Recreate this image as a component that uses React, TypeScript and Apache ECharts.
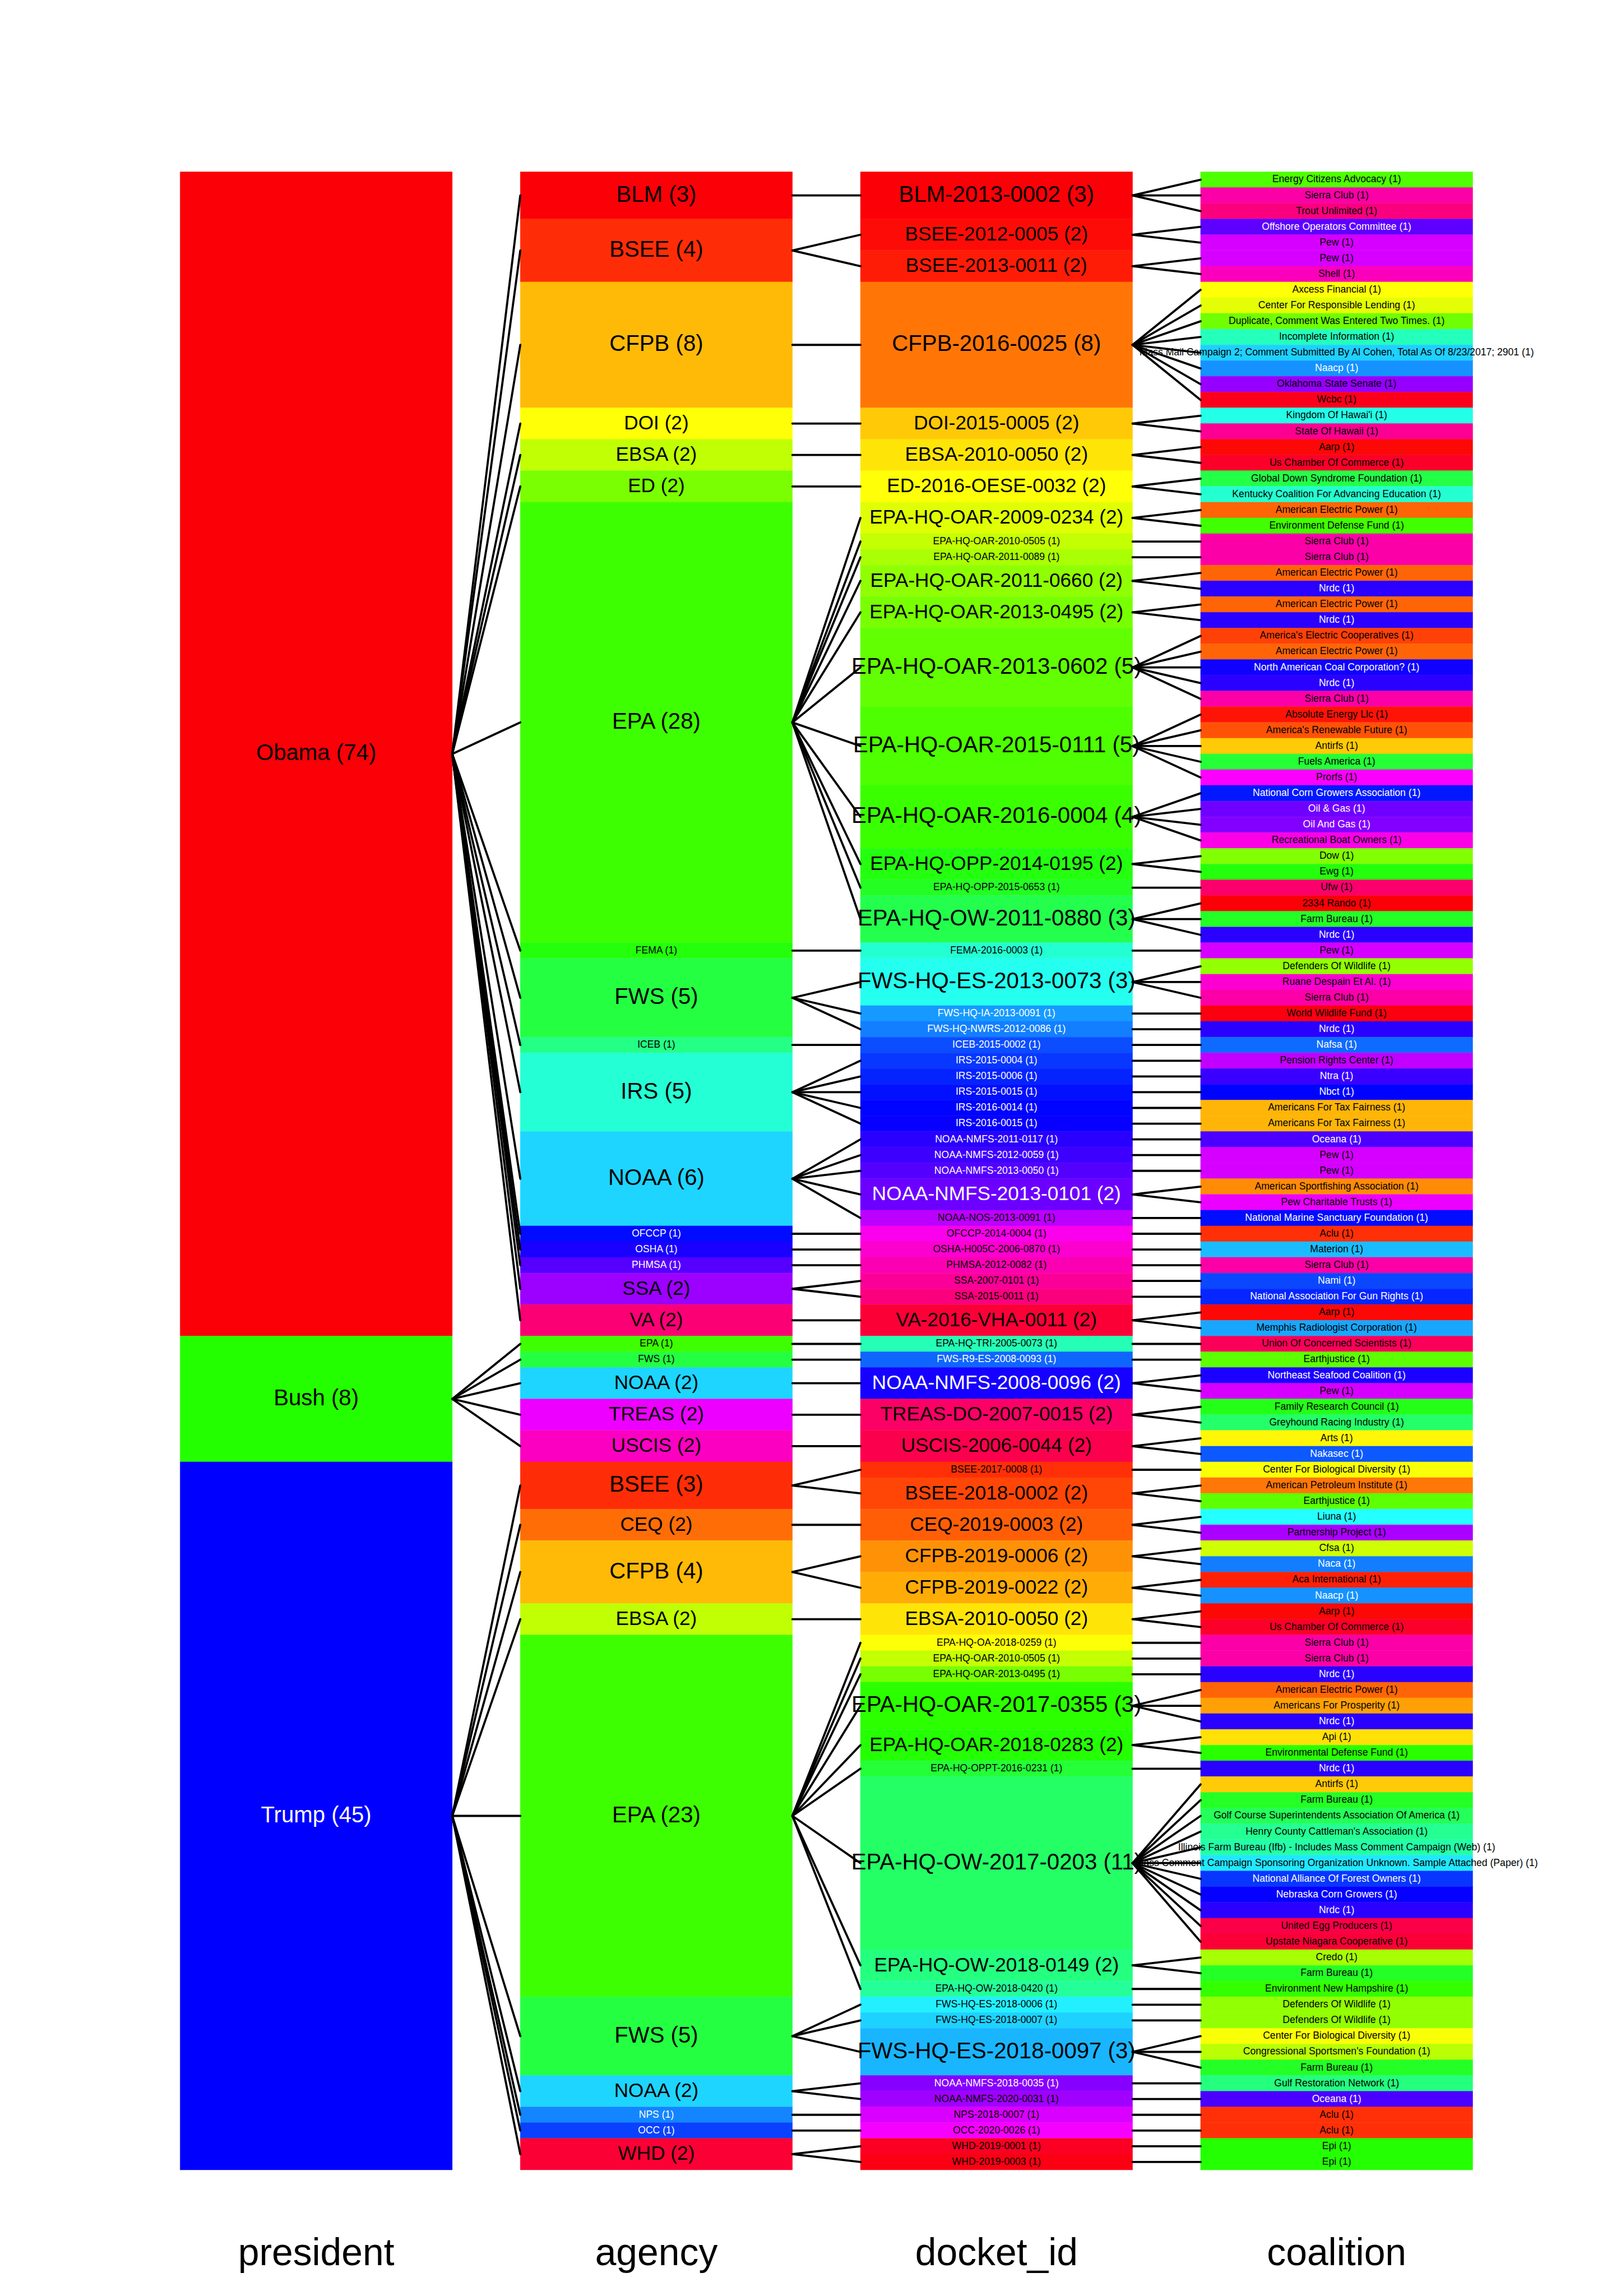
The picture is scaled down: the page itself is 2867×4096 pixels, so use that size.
import React, { useEffect, useRef } from 'react';
import * as echarts from 'echarts';

const columnTitles = ['president', 'agency', 'docket_id', 'coalition'];

const presidentNames = ['Obama', 'Bush', 'Trump'];
const presidentCounts = [74, 8, 45];

const agencyNames = [
  'BLM', 'BSEE', 'CFPB', 'DOI', 'EBSA', 'ED', 'EPA', 'FEMA', 'FWS', 'ICEB', 'IRS', 'NOAA', 'OFCCP', 'OSHA', 'PHMSA', 'SSA', 'VA',
  'EPA', 'FWS', 'NOAA', 'TREAS', 'USCIS',
  'BSEE', 'CEQ', 'CFPB', 'EBSA', 'EPA', 'FWS', 'NOAA', 'NPS', 'OCC', 'WHD',
];
const agencyCounts = [
  3, 4, 8, 2, 2, 2, 28, 1, 5, 1, 5, 6, 1, 1, 1, 2, 2,
  1, 1, 2, 2, 2,
  3, 2, 4, 2, 23, 5, 2, 1, 1, 2,
];

const docketNames = [
  'BLM-2013-0002', 'BSEE-2012-0005', 'BSEE-2013-0011', 'CFPB-2016-0025', 'DOI-2015-0005', 'EBSA-2010-0050',
  'ED-2016-OESE-0032', 'EPA-HQ-OAR-2009-0234', 'EPA-HQ-OAR-2010-0505', 'EPA-HQ-OAR-2011-0089', 'EPA-HQ-OAR-2011-0660',
  'EPA-HQ-OAR-2013-0495', 'EPA-HQ-OAR-2013-0602', 'EPA-HQ-OAR-2015-0111', 'EPA-HQ-OAR-2016-0004', 'EPA-HQ-OPP-2014-0195',
  'EPA-HQ-OPP-2015-0653', 'EPA-HQ-OW-2011-0880', 'FEMA-2016-0003', 'FWS-HQ-ES-2013-0073', 'FWS-HQ-IA-2013-0091',
  'FWS-HQ-NWRS-2012-0086', 'ICEB-2015-0002', 'IRS-2015-0004', 'IRS-2015-0006', 'IRS-2015-0015', 'IRS-2016-0014',
  'IRS-2016-0015', 'NOAA-NMFS-2011-0117', 'NOAA-NMFS-2012-0059', 'NOAA-NMFS-2013-0050', 'NOAA-NMFS-2013-0101',
  'NOAA-NOS-2013-0091', 'OFCCP-2014-0004', 'OSHA-H005C-2006-0870', 'PHMSA-2012-0082', 'SSA-2007-0101', 'SSA-2015-0011',
  'VA-2016-VHA-0011',
  'EPA-HQ-TRI-2005-0073', 'FWS-R9-ES-2008-0093', 'NOAA-NMFS-2008-0096', 'TREAS-DO-2007-0015', 'USCIS-2006-0044',
  'BSEE-2017-0008', 'BSEE-2018-0002', 'CEQ-2019-0003', 'CFPB-2019-0006', 'CFPB-2019-0022', 'EBSA-2010-0050',
  'EPA-HQ-OA-2018-0259', 'EPA-HQ-OAR-2010-0505', 'EPA-HQ-OAR-2013-0495', 'EPA-HQ-OAR-2017-0355', 'EPA-HQ-OAR-2018-0283',
  'EPA-HQ-OPPT-2016-0231', 'EPA-HQ-OW-2017-0203', 'EPA-HQ-OW-2018-0149', 'EPA-HQ-OW-2018-0420', 'FWS-HQ-ES-2018-0006',
  'FWS-HQ-ES-2018-0007', 'FWS-HQ-ES-2018-0097', 'NOAA-NMFS-2018-0035', 'NOAA-NMFS-2020-0031', 'NPS-2018-0007',
  'OCC-2020-0026', 'WHD-2019-0001', 'WHD-2019-0003',
];
const docketCounts = [
  3, 2, 2, 8, 2, 2,
  2, 2, 1, 1, 2,
  2, 5, 5, 4, 2,
  1, 3, 1, 3, 1,
  1, 1, 1, 1, 1, 1,
  1, 1, 1, 1, 2,
  1, 1, 1, 1, 1, 1,
  2,
  1, 1, 2, 2, 2,
  1, 2, 2, 2, 2, 2,
  1, 1, 1, 3, 2,
  1, 11, 2, 1, 1,
  1, 3, 1, 1, 1,
  1, 1, 1,
];

const coalitionNames = [
  'Energy Citizens Advocacy', 'Sierra Club', 'Trout Unlimited', 'Offshore Operators Committee', 'Pew', 'Pew', 'Shell',
  'Axcess Financial', 'Center For Responsible Lending', 'Duplicate, Comment Was Entered Two Times.', 'Incomplete Information',
  'Mass Mail Campaign 2; Comment Submitted By Al Cohen, Total As Of 8/23/2017; 2901', 'Naacp', 'Oklahoma State Senate', 'Wcbc',
  "Kingdom Of Hawai'i", 'State Of Hawaii', 'Aarp', 'Us Chamber Of Commerce', 'Global Down Syndrome Foundation',
  'Kentucky Coalition For Advancing Education', 'American Electric Power', 'Environment Defense Fund', 'Sierra Club',
  'Sierra Club', 'American Electric Power', 'Nrdc', 'American Electric Power', 'Nrdc', "America's Electric Cooperatives",
  'American Electric Power', 'North American Coal Corporation?', 'Nrdc', 'Sierra Club', 'Absolute Energy Llc',
  "America's Renewable Future", 'Antirfs', 'Fuels America', 'Prorfs', 'National Corn Growers Association', 'Oil & Gas',
  'Oil And Gas', 'Recreational Boat Owners', 'Dow', 'Ewg', 'Ufw', '2334 Rando', 'Farm Bureau', 'Nrdc', 'Pew',
  'Defenders Of Wildlife', 'Ruane Despain Et Al.', 'Sierra Club', 'World Wildlife Fund', 'Nrdc', 'Nafsa',
  'Pension Rights Center', 'Ntra', 'Nbct', 'Americans For Tax Fairness', 'Americans For Tax Fairness', 'Oceana', 'Pew', 'Pew',
  'American Sportfishing Association', 'Pew Charitable Trusts', 'National Marine Sanctuary Foundation', 'Aclu', 'Materion',
  'Sierra Club', 'Nami', 'National Association For Gun Rights', 'Aarp', 'Memphis Radiologist Corporation',
  'Union Of Concerned Scientists', 'Earthjustice', 'Northeast Seafood Coalition', 'Pew', 'Family Research Council',
  'Greyhound Racing Industry', 'Arts', 'Nakasec', 'Center For Biological Diversity', 'American Petroleum Institute',
  'Earthjustice', 'Liuna', 'Partnership Project', 'Cfsa', 'Naca', 'Aca International', 'Naacp', 'Aarp',
  'Us Chamber Of Commerce', 'Sierra Club', 'Sierra Club', 'Nrdc', 'American Electric Power', 'Americans For Prosperity',
  'Nrdc', 'Api', 'Environmental Defense Fund', 'Nrdc', 'Antirfs', 'Farm Bureau',
  'Golf Course Superintendents Association Of America', "Henry County Cattleman's Association",
  'Illinois Farm Bureau (Ifb) - Includes Mass Comment Campaign (Web)',
  'Mass Comment Campaign Sponsoring Organization Unknown. Sample Attached (Paper)', 'National Alliance Of Forest Owners',
  'Nebraska Corn Growers', 'Nrdc', 'United Egg Producers', 'Upstate Niagara Cooperative', 'Credo', 'Farm Bureau',
  'Environment New Hampshire', 'Defenders Of Wildlife', 'Defenders Of Wildlife', 'Center For Biological Diversity',
  "Congressional Sportsmen's Foundation", 'Farm Bureau', 'Gulf Restoration Network', 'Oceana', 'Aclu', 'Aclu', 'Epi', 'Epi',
];
const coalitionCounts = coalitionNames.map(() => 1);

const FONT = '"Liberation Sans", Arial, Helvetica, sans-serif';

function rainbow(i: number, n: number): number[] {
  const h = (i / n) * 6;
  const k = Math.floor(h);
  const f = h - k;
  const q = Math.round(255 * (1 - f));
  const t = Math.round(255 * f);
  switch (k % 6) {
    case 0: return [255, t, 0];
    case 1: return [q, 255, 0];
    case 2: return [0, 255, t];
    case 3: return [0, q, 255];
    case 4: return [t, 0, 255];
    default: return [255, 0, q];
  }
}

// approximate the colour rendering seen in the reference picture
function toDisplay(rgb: number[]): number[] {
  const g = rgb.map((c) => 255 * Math.pow(c / 255, 1.3));
  const r = Math.min(255, 0.984 * g[0] + 0.141 * g[1]);
  const b = Math.min(255, g[2] + 0.027 * g[0]);
  return [Math.round(r), Math.round(g[1]), Math.round(b)];
}

type NodeT = { col: number; name: string; count: number; y0: number; y1: number; color: string; textColor: string };

function buildColumn(col: number, names: string[], counts: number[], sortLevels: boolean): NodeT[] {
  let levels: string[] = [];
  names.forEach((n) => { if (levels.indexOf(n) < 0) levels.push(n); });
  if (sortLevels) levels = levels.slice().sort();
  let acc = 0;
  return names.map((name, i) => {
    const y0 = acc;
    acc += counts[i];
    const rgb = rainbow(levels.indexOf(name), levels.length);
    const white = rgb[2] === 255 && rgb[0] < 165 && rgb[1] < 178;
    const d = toDisplay(rgb);
    return {
      col, name, count: counts[i], y0, y1: acc,
      color: `rgb(${d[0]},${d[1]},${d[2]})`,
      textColor: white ? '#ffffff' : '#000000',
    };
  });
}

const columns: NodeT[][] = [
  buildColumn(1, presidentNames, presidentCounts, false),
  buildColumn(2, agencyNames, agencyCounts, true),
  buildColumn(3, docketNames, docketCounts, true),
  buildColumn(4, coalitionNames, coalitionCounts, true),
];
const allNodes: NodeT[] = ([] as NodeT[]).concat(...columns);

const links: number[][] = [];
for (let c = 0; c < 3; c++) {
  columns[c + 1].forEach((child) => {
    const parent = columns[c].find((p) => p.y0 <= child.y0 && child.y1 <= p.y1);
    if (parent) {
      links.push([parent.col + 0.4, (parent.y0 + parent.y1) / 2, child.col - 0.4, (child.y0 + child.y1) / 2]);
    }
  });
}

function fontFor(count: number): number {
  return Math.min(count * 17.6, 40.2);
}

export default function App() {
  const ref = useRef<HTMLDivElement>(null);
  useEffect(() => {
    if (!ref.current) return;
    const chart = echarts.init(ref.current, undefined, { renderer: 'svg' });
    chart.setOption({
      animation: false,
      backgroundColor: '#ffffff',
      grid: { left: 260.7, right: 178.9, top: 306.5, bottom: 225, containLabel: false },
      xAxis: [
        { type: 'value', min: 0.5, max: 4.5, show: false },
        {
          type: 'category',
          data: columnTitles,
          position: 'bottom',
          boundaryGap: true,
          axisLine: { show: false },
          axisTick: { show: false },
          splitLine: { show: false },
          axisLabel: { fontSize: 67.8, color: '#000', fontFamily: FONT, margin: 112 },
        },
      ],
      yAxis: { type: 'value', min: 0, max: 127, inverse: true, show: false },
      series: [
        {
          type: 'custom',
          xAxisIndex: 0,
          yAxisIndex: 0,
          z: 2,
          clip: false,
          encode: { x: 0, y: [1, 2] },
          data: allNodes.map((n) => [n.col, n.y0, n.y1]),
          renderItem: (params: any, api: any) => {
            const n = allNodes[params.dataIndex];
            const p0 = api.coord([api.value(0) - 0.4, api.value(1)]);
            const p1 = api.coord([api.value(0) + 0.4, api.value(2)]);
            const fs = fontFor(n.count);
            return {
              type: 'group',
              children: [
                {
                  type: 'rect',
                  shape: { x: p0[0], y: p0[1], width: p1[0] - p0[0], height: p1[1] - p0[1] },
                  style: { fill: n.color, stroke: n.color, lineWidth: 0.5 },
                },
                {
                  type: 'text',
                  z2: 10,
                  style: {
                    text: `${n.name} (${n.count})`,
                    x: (p0[0] + p1[0]) / 2,
                    y: (p0[1] + p1[1]) / 2 - fs * 0.06,
                    align: 'center',
                    verticalAlign: 'middle',
                    textAlign: 'center',
                    textVerticalAlign: 'middle',
                    fill: n.textColor,
                    fontSize: fs,
                    fontFamily: FONT,
                  },
                },
              ],
            };
          },
        },
        {
          type: 'custom',
          xAxisIndex: 0,
          yAxisIndex: 0,
          z: 5,
          clip: false,
          encode: { x: [0, 2], y: [1, 3] },
          data: links,
          renderItem: (params: any, api: any) => {
            const a = api.coord([api.value(0), api.value(1)]);
            const b = api.coord([api.value(2), api.value(3)]);
            return {
              type: 'line',
              shape: { x1: a[0], y1: a[1], x2: b[0], y2: b[1] },
              style: { stroke: '#000000', lineWidth: 3.8, lineCap: 'round' },
            };
          },
        },
      ],
    });
    return () => chart.dispose();
  }, []);
  return (
    <div
      ref={ref}
      style={{ position: 'fixed', left: 0, top: 0, width: '2867px', height: '4096px', background: '#fff' }}
    />
  );
}
